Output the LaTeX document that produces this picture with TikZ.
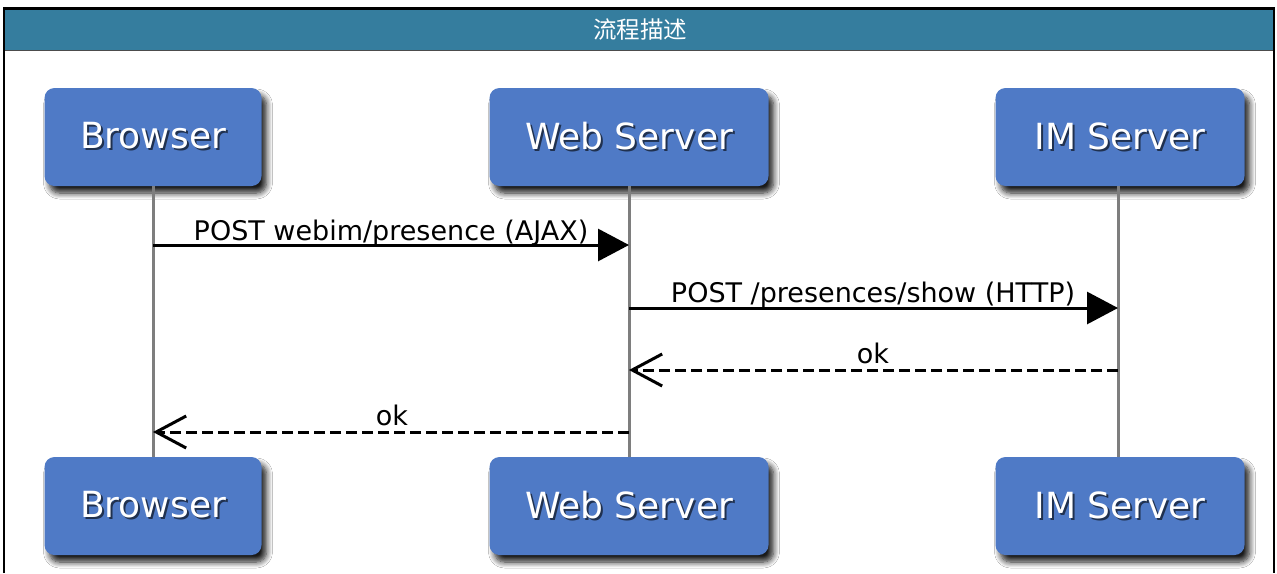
\documentclass[tikz,border=0pt]{standalone}
\usepackage{fontspec}
\setmainfont{DejaVu Sans}
\newfontfamily\cjk{Noto Sans CJK SC}
\usetikzlibrary{arrows.meta,shadows.blur}
\definecolor{titlebg}{HTML}{357D9E}
\definecolor{boxblue}{HTML}{4F7AC6}
\definecolor{lifegray}{HTML}{7E7E7E}
\newcommand\shadowtext[1]{\leavevmode\rlap{\kern2pt\raisebox{-2pt}{\color{black!60!boxblue}#1}}#1}
\begin{document}
\begin{tikzpicture}[x=1pt,y=-1pt,
  actor/.style={rectangle, rounded corners=10pt, fill=boxblue, minimum height=98pt,
    inner sep=0pt, text=white, font=\fontsize{36}{40}\selectfont,
    blur shadow={shadow xshift=5pt, shadow yshift=-7pt, shadow blur radius=6pt, shadow opacity=90, shadow blur steps=8}},
  life/.style={draw=lifegray, line width=3pt},
  msg/.style={draw=black, line width=3pt, -{Triangle[length=31pt,width=32pt]}},
  reply/.style={draw=black, line width=3pt, dash pattern=on 11pt off 5pt,
    -{Straight Barb[length=30pt,width=32pt,line width=3pt]}},
  lbl/.style={inner sep=0pt, anchor=base, font=\fontsize{27}{30}\selectfont}
]
\useasboundingbox (0,0) rectangle (1277,573);
\fill[white] (0,0) rectangle (1277,573);
% frame and title bar
\fill[titlebg] (4,9) rectangle (1274,50);
\draw[gray!60!black, line width=1.5pt] (4,50.5) -- (1274,50.5);
\draw[black, line width=2.5pt] (4,573) -- (4,8.5) -- (1274,8.5) -- (1274,573);
\node[text=white, font=\cjk\fontsize{23.5}{26}\selectfont] (title) at (640,30) {流程描述};
% actors
\node[actor, minimum width=217pt] (b1) at (153,137) {\shadowtext{Browser}};
\node[actor, minimum width=279pt] (w1) at (629,137) {\shadowtext{Web Server}};
\node[actor, minimum width=249pt] (i1) at (1120,137) {\shadowtext{IM Server}};
\node[actor, minimum width=217pt] (b2) at (153,506) {\shadowtext{Browser}};
\node[actor, minimum width=279pt] (w2) at (629,506) {\shadowtext{Web Server}};
\node[actor, minimum width=249pt] (i2) at (1120,506) {\shadowtext{IM Server}};
% lifelines
\draw[life] (b1.south) -- (b2.north);
\draw[life] (w1.south) -- (w2.north);
\draw[life] ([xshift=-2pt]i1.south) -- ([xshift=-2pt]i2.north);
% message anchor points on lifelines
\coordinate (m1a) at (153,245);
\coordinate (m1b) at (629,245);
\coordinate (m2a) at (629,308);
\coordinate (m2b) at (1118,308);
\coordinate (m3a) at (1118,370);
\coordinate (m3b) at (629,370);
\coordinate (m4a) at (629,432);
\coordinate (m4b) at (153,432);
% messages
\draw[msg] (m1a) -- (m1b);
\node[lbl] (l1) at (391,240) {POST webim/presence (AJAX)};
\draw[msg] (m2a) -- (m2b);
\node[lbl] (l2) at (873,302) {POST /presences/show (HTTP)};
\draw[reply] (m3a) -- (m3b);
\node[lbl] (l3) at (873,363) {ok};
\draw[reply] (m4a) -- (m4b);
\node[lbl] (l4) at (392,425) {ok};
\end{tikzpicture}
\end{document}
